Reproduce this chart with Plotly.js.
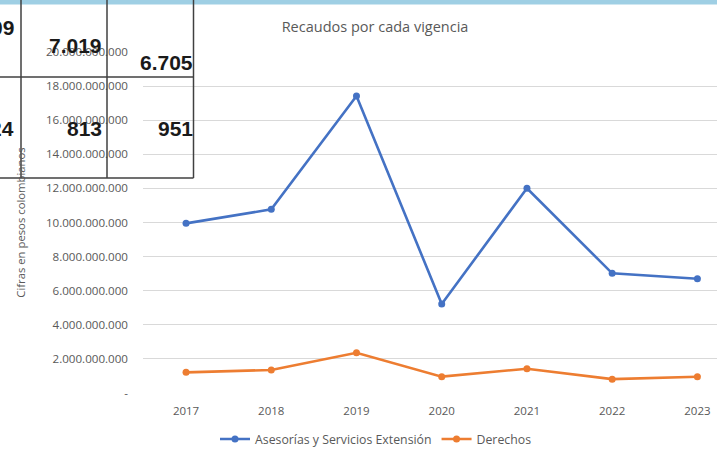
<!DOCTYPE html>
<html>
<head>
<meta charset="utf-8">
<script src="https://cdn.plot.ly/plotly-3.0.1.min.js"></script>
<style>
html,body{margin:0;padding:0;background:#fff;overflow:hidden;}
#chart{width:717px;height:454px;}
</style>
</head>
<body>
<div id="chart"></div>
<script>
// ---- data ----
var years = ['2017', '2018', '2019', '2020', '2021', '2022', '2023'];
var asesorias = [9.95e9, 10.77e9, 17.42e9, 5.22e9, 12.009e9, 7.019e9, 6.705e9];
var derechos = [1.21e9, 1.35e9, 2.36e9, 0.96e9, 1.424e9, 0.813e9, 0.951e9];
var yTickVals = [0, 2e9, 4e9, 6e9, 8e9, 10e9, 12e9, 14e9, 16e9, 18e9, 20e9];
var yTickText = ['-', '2.000.000.000', '4.000.000.000', '6.000.000.000', '8.000.000.000',
  '10.000.000.000', '12.000.000.000', '14.000.000.000', '16.000.000.000', '18.000.000.000', '20.000.000.000'];
var seriesNames = ['Asesorías y Servicios Extensión', 'Derechos'];
// overlapping table fragment (visible cells)
var tableTexts = ['09', '7.019', '6.705', '24', '813', '951'];

// ---- layout helpers (pixel -> paper) ----
var W = 717, H = 454, L = 143, R = 0, T = 52, B = 61;
var PW = W - L - R, PH = H - T - B;
function px(x) { return (x - L) / PW; }
function py(y) { return (H - B - y) / PH; }

var gray = '#595959';
var font = '"Open Sans", Lato, sans-serif';

var traces = [
  {x: years, y: asesorias, name: seriesNames[0], type: 'scatter', mode: 'lines+markers',
   line: {color: '#4472C4', width: 2.6}, marker: {color: '#4472C4', size: 7}, cliponaxis: false},
  {x: years, y: derechos, name: seriesNames[1], type: 'scatter', mode: 'lines+markers',
   line: {color: '#ED7D31', width: 2.6}, marker: {color: '#ED7D31', size: 7}, cliponaxis: false}
];

var lineCol = '#404040';
var shapes = [
  // light blue band at the top
  {type: 'rect', xref: 'paper', yref: 'paper', x0: px(0), x1: px(717), y0: py(0), y1: py(4.5),
   fillcolor: '#9FCFE4', line: {width: 0}, layer: 'above'},
  // table lines
  {type: 'line', xref: 'paper', yref: 'paper', x0: px(21), x1: px(21), y0: py(0), y1: py(178), line: {color: lineCol, width: 1.5}, layer: 'above'},
  {type: 'line', xref: 'paper', yref: 'paper', x0: px(107), x1: px(107), y0: py(0), y1: py(178), line: {color: lineCol, width: 1.5}, layer: 'above'},
  {type: 'line', xref: 'paper', yref: 'paper', x0: px(193.5), x1: px(193.5), y0: py(0), y1: py(178), line: {color: lineCol, width: 1.5}, layer: 'above'},
  {type: 'line', xref: 'paper', yref: 'paper', x0: px(0), x1: px(193.5), y0: py(77), y1: py(77), line: {color: lineCol, width: 1.5}, layer: 'above'},
  {type: 'line', xref: 'paper', yref: 'paper', x0: px(0), x1: px(193.5), y0: py(178), y1: py(178), line: {color: lineCol, width: 1.5}, layer: 'above'}
];

var tfont = {family: '"Liberation Sans", Arial, sans-serif', size: 21, color: '#1a1a1a'};
var tablePos = [[16, 27, 'right'], [75, 45, 'center'], [166, 63, 'center'],
                [16, 128, 'right'], [84, 128, 'center'], [175, 128, 'center']];
var annotations = tablePos.map(function (p, i) {
  return {xref: 'paper', yref: 'paper', x: px(p[0]), y: py(p[1]), text: '<b>' + tableTexts[i] + '</b>',
    showarrow: false, xanchor: p[2], yanchor: 'middle', font: tfont};
});

var layout = {
  width: W, height: H,
  margin: {l: L, r: R, t: T, b: B},
  paper_bgcolor: '#fff', plot_bgcolor: '#fff',
  font: {family: font, color: gray, size: 11},
  title: {text: 'Recaudos por cada vigencia', x: 375 / W, xref: 'container', xanchor: 'center',
          y: 1 - 27 / H, yref: 'container', yanchor: 'middle', font: {size: 14.5, color: gray, family: font}},
  xaxis: {type: 'category', range: [-0.505, 6.23], showgrid: false, zeroline: false,
          showline: false, ticks: '', ticklabelstandoff: 9, tickfont: {size: 11.5, color: gray}},
  yaxis: {range: [0, 20e9], tickvals: yTickVals, ticktext: yTickText, showgrid: true,
          gridcolor: '#D9D9D9', gridwidth: 1, zeroline: false, showline: false, ticks: '',
          ticklabelstandoff: 14, tickfont: {size: 11.6, color: gray},
          title: {text: 'Cifras en pesos colombianos', standoff: 17, font: {size: 11.3, color: gray}}},
  showlegend: true,
  legend: {orientation: 'h', xref: 'container', yref: 'container', x: 376 / W, xanchor: 'center',
           y: 1 - 439 / H, yanchor: 'middle', font: {size: 12.3, color: gray}, itemwidth: 30,
           bgcolor: 'rgba(0,0,0,0)'},
  shapes: shapes,
  annotations: annotations
};

Plotly.newPlot('chart', traces, layout, {displayModeBar: false, staticPlot: true});
</script>
</body>
</html>
